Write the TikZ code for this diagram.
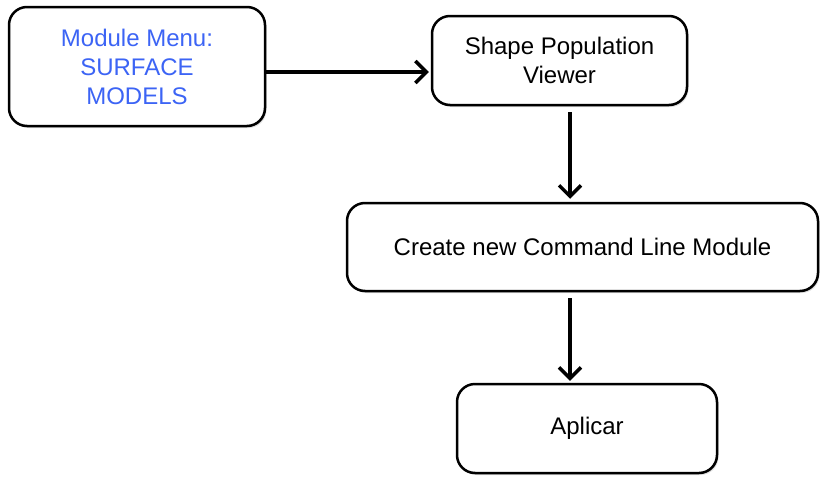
\documentclass[tikz,border=0pt]{standalone}
\usepackage{fontspec}
\setmainfont{Liberation Sans}
\usetikzlibrary{arrows.meta,shadows}

\begin{document}
\begin{tikzpicture}[x=1pt,y=-1pt]
	\tikzstyle{stepbox} = [draw, line width=2.5pt, rounded corners=18pt, fill=white, align=center,
		font=\fontsize{24}{29}\selectfont,
		drop shadow={opacity=0.25, shadow xshift=1.5pt, shadow yshift=-2pt}]
	\tikzstyle{flow} = [line width=3.6pt, -{Straight Barb[length=11pt,width=22pt,line width=3.4pt]}]
	\definecolor{menublue}{RGB}{60,100,245}

	\useasboundingbox (0,0) rectangle (820,477);

	\node[stepbox, minimum width=256pt, minimum height=119pt, text=menublue] (menu) at (137,66.5) {Module Menu:\\SURFACE\\MODELS};
	\node[stepbox, minimum width=255pt, minimum height=89pt] (viewer) at (559.5,60.5) {Shape Population\\Viewer};
	\node[stepbox, minimum width=471pt, minimum height=88pt] (create) at (582.5,247) {Create new Command Line Module};
	\node[stepbox, minimum width=260pt, minimum height=89pt] (apply) at (587,428.5) {Aplicar};

	% vertical arrows run down this line
	\coordinate (spine) at (570,0);

	\draw[flow] ([yshift=-5.5pt]menu.east) -- ([yshift=-5.5pt,xshift=-2pt]menu.east -| viewer.west);
	\draw[flow, shorten <=6pt, shorten >=3pt] (viewer.south -| spine) -- (create.north -| spine);
	\draw[flow, shorten <=6pt, shorten >=2pt] (create.south -| spine) -- (apply.north -| spine);

\end{tikzpicture}
\end{document}
